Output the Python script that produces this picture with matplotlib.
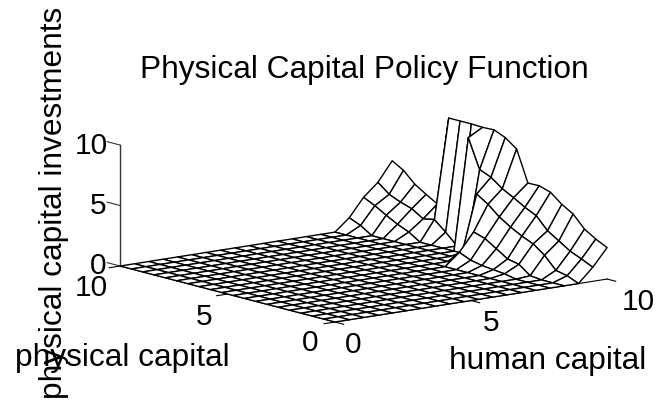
import matplotlib
matplotlib.use("Agg")
import matplotlib.pyplot as plt
import numpy as np
from mpl_toolkits.mplot3d import proj3d

plt.rcParams["font.family"] = ["Liberation Sans", "DejaVu Sans"]

human = np.linspace(0, 10, 20)
physical = np.linspace(0, 10, 20)

# only the last columns of the policy are above zero, by physical capital row
col_15 = [0, 0, 0, 0, 0.2, 0.3, 0.4, 0.6, 1.0, 0, 0, 0, 0, 0, 0, 0, 0, 0, 0, 0]
col_16 = [0, 0, 0, 0.1, 0.8, 1.0, 1.6, 2.2, 2.5, 0.6, 0, 0, 0, 0, 0, 0, 0, 0, 0.6, 1.0]
col_17 = [0, 0.4, 0.6, 1.6, 2.3, 2.7, 3.2, 3.8, 4.6, 5.2, 0, 0, 0, 0, 0, 0.6, 1.0, 1.5, 2.05, 2.5]
col_18 = [1.16, 1.6, 2.0, 2.6, 3.2, 4.2, 4.65, 5.2, 5.7, 6.4, 6.8, 9.2, 0, 0.9, 1.7, 1.5, 2.1, 2.4, 2.8, 3.55]
col_19 = [2.6, 3.06, 3.64, 4.64, 5.2, 5.95, 6.25, 6.23, 8.8, 9.5, 9.9, 9.86, 9.9, 9.9, 9.9, 2.55, 3.1, 3.7, 4.6, 5.15]

ticks = [0, 5, 10]

policy = np.zeros((20, 20))
policy[:, 15] = col_15
policy[:, 16] = col_16
policy[:, 17] = col_17
policy[:, 18] = col_18
policy[:, 19] = col_19

W, H = 672, 406
fig = plt.figure(figsize=(W / 100, H / 100), dpi=100)
ax = fig.add_axes([0.1, 0.1, 0.8, 0.8], projection="3d", proj_type="ortho")
ax.view_init(elev=11.7, azim=-127.9)
ax.set_box_aspect((345, 350, 123.6))
ax.set_xlim(0, 10)
ax.set_ylim(0, 10)
ax.set_zlim(0, 10)
ax.set_axis_off()
ax.patch.set_alpha(0)

hh, pp = np.meshgrid(human, physical)
surf = ax.plot_surface(hh, pp, policy, rstride=1, cstride=1, color="white",
                       edgecolor="black", linewidth=1.0, shade=False)
surf.set_clip_on(False)

# axis lines and ticks
ax.plot([0, 0], [10, 10], [0, 10], color="#333333", lw=1, clip_on=False)
ax.plot([0, 10], [0, 0], [0, 0], color="black", lw=0.8, clip_on=False)
ax.plot([0, 0], [0, 10], [0, 0], color="black", lw=0.8, clip_on=False)
for t in ticks:
    ax.plot([0, 0], [10, 10.6], [t, t], color="#333333", lw=0.8, clip_on=False)
    ax.plot([t, t], [0, -0.4], [0, 0], color="black", lw=0.8, clip_on=False)
    ax.plot([0, -0.4], [t, t], [0, 0], color="black", lw=0.8, clip_on=False)


def place():
    # line the mesh corners up with the reference pixels
    for i in range(4):
        fig.canvas.draw()
        M = ax.get_proj()
        x0, y0, _ = proj3d.proj_transform(0, 0, 0, M)
        x1, y1, _ = proj3d.proj_transform(10, 0, 0, M)
        x2, y2, _ = proj3d.proj_transform(0, 10, 0, M)
        a = ax.transData.transform([(x0, y0), (x1, y1), (x2, y2)])
        scale = 487 / (a[1][0] - a[2][0])
        pos = ax.get_position()
        ax.set_position([pos.x0, pos.y0, pos.width * scale, pos.height * scale])
        fig.canvas.draw()
        a = ax.transData.transform([(x0, y0), (x1, y1), (x2, y2)])
        pos = ax.get_position()
        ax.set_position([pos.x0 + (335 - a[0][0]) / W,
                         pos.y0 + ((H - 323) - a[0][1]) / H, pos.width, pos.height])


place()


def label(x, y, s, size=22.8, **kw):
    fig.text(x / W, 1 - y / H, s, fontsize=size, ha="center", va="center", **kw)


label(364, 70, "Physical Capital Policy Function")
label(91, 146, "10", size=21.5)
label(98.5, 206, "5", size=21.5)
label(98.5, 266, "0", size=21.5)
label(91, 288, "10", size=21.5)
label(204, 317, "5", size=21.5)
label(310, 343, "0", size=21.5)
label(353, 345, "0", size=21.5)
label(491, 323, "5", size=21.5)
label(638, 302, "10", size=21.5)
label(122, 358, "physical capital")
label(548, 361, "human capital")
label(54, 203, "physical capital investments", rotation=90)

fig.savefig("out.png", dpi=100)
